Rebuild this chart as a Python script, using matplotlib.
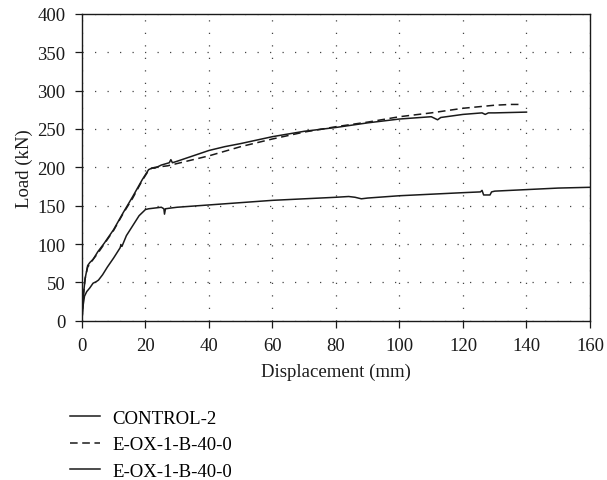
import matplotlib
matplotlib.use("Agg")
import matplotlib.pyplot as plt

plt.rcParams['font.family'] = ['Liberation Serif', 'DejaVu Serif']

# CONTROL-2 (нижняя кривая)
ctrl_x = [0, 0.3, 0.8, 1.5, 2.5, 3.5, 4.5, 5.2, 6.5, 8, 10, 12, 12.3, 12.6, 14, 16, 18, 20, 21,
          23, 25, 25.8, 26.0, 26.3, 28, 30, 40, 50, 60, 70, 75, 80, 84, 86, 88, 90,
          100, 110, 120, 125.5, 126, 126.5, 128.5, 129, 130, 140, 150, 160]
ctrl_y = [0, 18, 32, 38, 43, 49, 51, 53, 60, 70, 82, 95, 99, 97, 111, 124, 137, 145, 146,
          147, 148, 146, 139, 146, 147, 148, 151, 154, 157, 159, 160, 161, 162, 161, 159, 160,
          163, 165, 167, 168, 170, 164, 164, 168, 169, 171, 173, 174]

# E-OX-1-B-40-0 (штриховая)
dash_x = [0, 0.5, 1, 1.8, 2.5, 3.5, 5, 7, 10, 13, 16, 19, 21, 22, 23, 25, 27, 30,
          40, 50, 60, 70, 80, 90, 100, 110, 120, 130, 135, 138.5]
dash_y = [0, 35, 55, 70, 74, 80, 88, 100, 118, 140, 160, 183, 196, 199, 200, 201, 202, 205,
          215, 227, 237, 246, 253, 259, 266, 271, 277, 281, 282, 282]

# E-OX-1-B-40-0 (сплошная, верхняя)
solid_x = [0, 0.5, 1, 1.8, 2.5, 3.5, 5, 7, 10, 13, 16, 19, 21, 22, 23, 25, 27.5, 28, 28.5, 30,
           40, 45, 50, 60, 70, 80, 90, 100, 110, 111, 112, 113, 120, 126, 127, 128, 130, 140]
solid_y = [0, 35, 55, 72, 76, 80, 90, 101, 119, 141, 162, 184, 197, 199, 199, 203, 206, 210, 206, 208,
           222, 227, 231, 240, 247, 252, 258, 263, 266, 264, 262, 265, 269, 271, 269, 271, 271, 272]

labels = ["CONTROL-2", "E-OX-1-B-40-0", "E-OX-1-B-40-0"]
x_ticks = [0, 20, 40, 60, 80, 100, 120, 140, 160]
y_ticks = [0, 50, 100, 150, 200, 250, 300, 350, 400]

FS = 13.5
ink = "#1a1a1a"

fig = plt.figure(figsize=(6.07, 4.81), dpi=100)
ax = fig.add_axes([0.135, 0.331, 0.837, 0.638])

l1, = ax.plot(ctrl_x, ctrl_y, color=ink, lw=1.1, ls="-")
l2, = ax.plot(dash_x, dash_y, color=ink, lw=1.1, ls=(0, (5, 3)))
l3, = ax.plot(solid_x, solid_y, color=ink, lw=1.1, ls="-")

ax.set_xlim(0, 160)
ax.set_ylim(0, 400)
ax.set_xticks(x_ticks)
ax.set_yticks(y_ticks)
ax.grid(True, color="#444444", lw=0.9, ls=(0, (1, 9)))
ax.tick_params(direction="out", length=5, width=0.9, pad=7, labelsize=FS, colors=ink)
for s in ax.spines.values():
    s.set_linewidth(1.0)
    s.set_color(ink)

ax.set_xlabel("Displacement (mm)", fontsize=FS, color=ink, labelpad=6)
ax.set_ylabel("Load (kN)", fontsize=FS, color=ink, labelpad=3)

fig.legend([l1, l2, l3], labels, loc="upper left", bbox_to_anchor=(0.115, 0.146),
           frameon=False, fontsize=FS, handlelength=1.6, handletextpad=0.65,
           labelspacing=0.5, borderpad=0, borderaxespad=0)

fig.savefig("out.png", dpi=100)
